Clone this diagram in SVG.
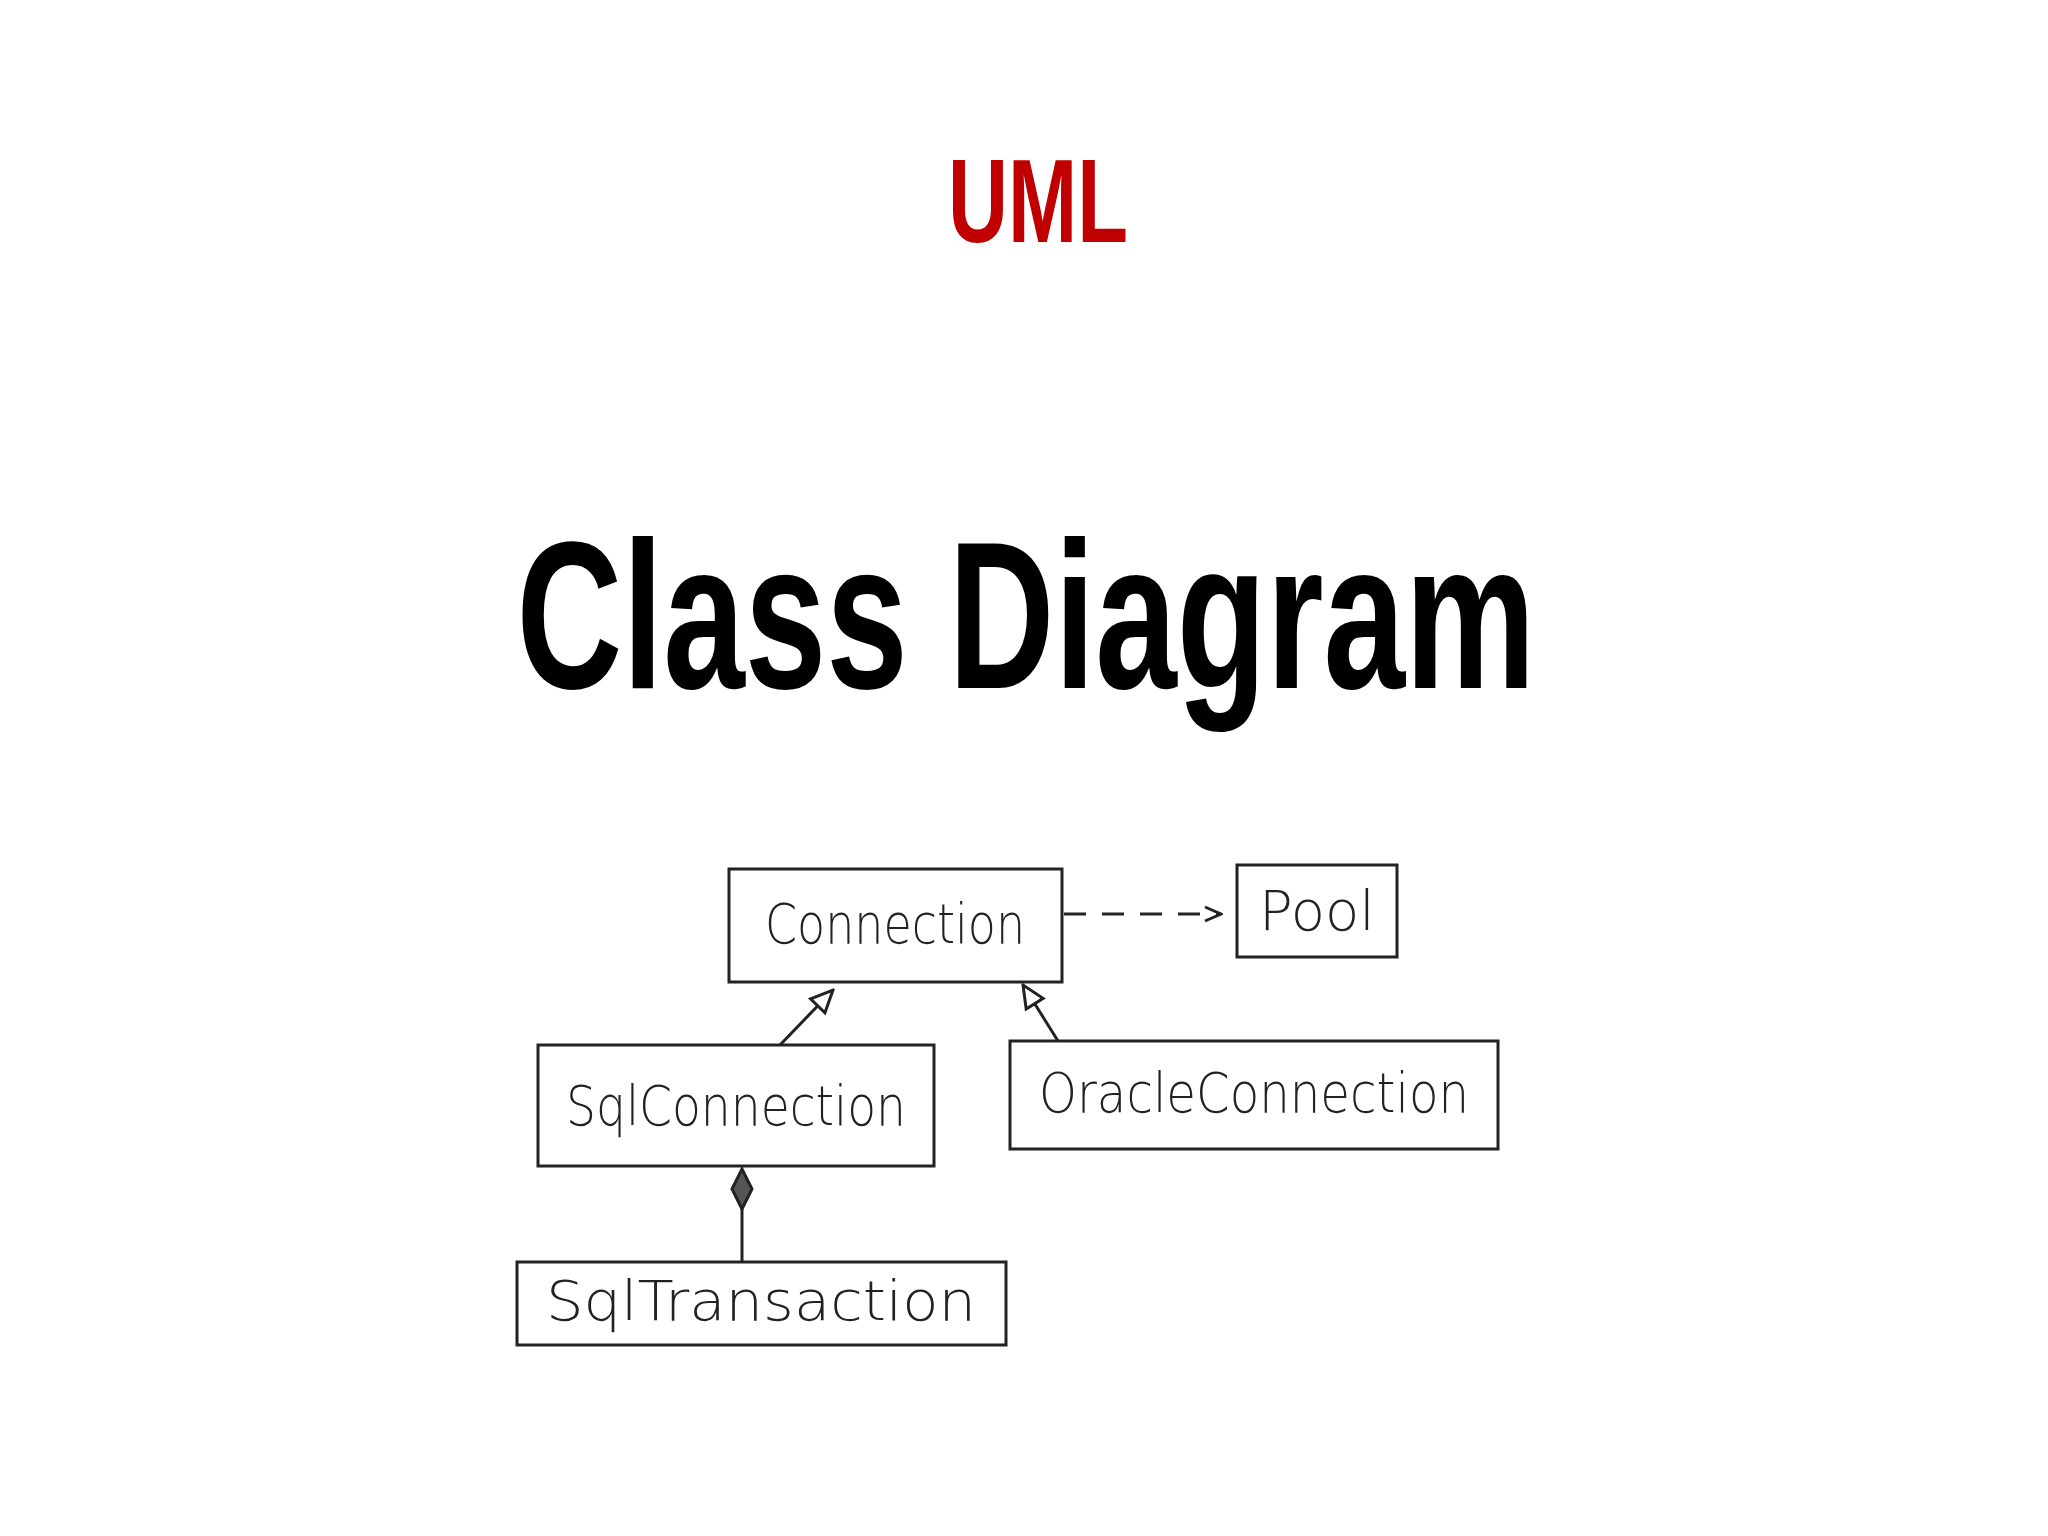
<svg xmlns="http://www.w3.org/2000/svg" width="2048" height="1536" viewBox="0 0 2048 1536">
<defs>
<style>
.box{fill:none;stroke:#222;stroke-width:3}
.lbl{font-family:"DejaVu Sans","Liberation Sans",sans-serif;font-size:56px;fill:#222;font-weight:300}
.ln{stroke:#222;stroke-width:3;fill:none}
</style>
<marker id="open" markerWidth="20" markerHeight="20" refX="18" refY="10" orient="auto" markerUnits="userSpaceOnUse"><path d="M2,3 L18,10 L2,17" fill="none" stroke="#222" stroke-width="3"/></marker>
<marker id="tri" markerWidth="26" markerHeight="26" refX="24" refY="13" orient="auto" markerUnits="userSpaceOnUse"><path d="M2,3 L24,13 L2,23 Z" fill="#fff" stroke="#222" stroke-width="3"/></marker>
<marker id="dia" markerWidth="44" markerHeight="24" refX="42" refY="12" orient="auto" markerUnits="userSpaceOnUse"><path d="M2,12 L22,2 L42,12 L22,22 Z" fill="#555" stroke="#222" stroke-width="3"/></marker>
</defs>
<rect width="2048" height="1536" fill="#fff"/>
<text x="1038" y="242" text-anchor="middle" font-family="Liberation Sans,sans-serif" font-weight="bold" font-size="118" fill="#c00000" textLength="180" lengthAdjust="spacingAndGlyphs">UML</text>
<text x="1026" y="688" text-anchor="middle" font-family="Liberation Sans,sans-serif" font-weight="bold" font-size="210" fill="#000" textLength="1019" lengthAdjust="spacingAndGlyphs">Class Diagram</text>
<g id="connection"><rect class="box" x="729" y="869" width="333" height="113"/><text class="lbl" x="895" y="943" text-anchor="middle" textLength="260" lengthAdjust="spacingAndGlyphs">Connection</text></g>
<g id="pool"><rect class="box" x="1237" y="865" width="160" height="92"/><text class="lbl" x="1317" y="930" text-anchor="middle">Pool</text></g>
<g id="sqlconnection"><rect class="box" x="538" y="1045" width="396" height="121"/><text class="lbl" x="736" y="1125" text-anchor="middle" textLength="340" lengthAdjust="spacingAndGlyphs">SqlConnection</text></g>
<g id="oracleconnection"><rect class="box" x="1010" y="1041" width="488" height="108"/><text class="lbl" x="1254" y="1112" text-anchor="middle" textLength="430" lengthAdjust="spacingAndGlyphs">OracleConnection</text></g>
<g id="sqltransaction"><rect class="box" x="517" y="1262" width="489" height="83"/><text class="lbl" x="761" y="1320" text-anchor="middle" textLength="430" lengthAdjust="spacingAndGlyphs">SqlTransaction</text></g>
<g id="connectors">
<line class="ln" x1="1064" y1="914" x2="1221" y2="914" stroke-dasharray="22,16" marker-end="url(#open)"/>
<line class="ln" x1="780" y1="1045" x2="833" y2="990" marker-end="url(#tri)"/>
<line class="ln" x1="1058" y1="1041" x2="1023" y2="985" marker-end="url(#tri)"/>
<line class="ln" x1="742" y1="1262" x2="742" y2="1169" marker-end="url(#dia)"/>
</g>
</svg>
